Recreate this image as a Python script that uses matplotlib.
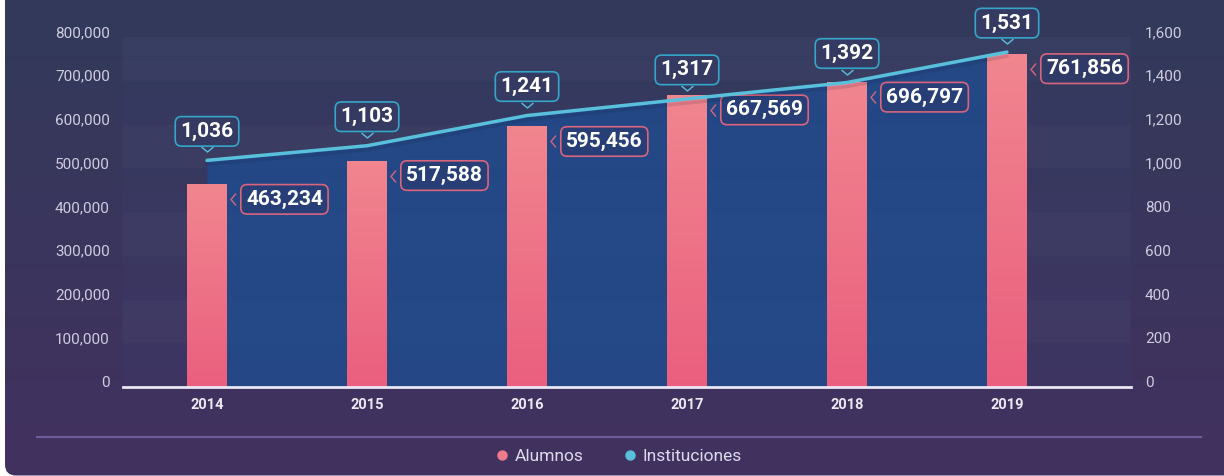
import numpy as np
import matplotlib
matplotlib.use('Agg')
import matplotlib.pyplot as plt
from matplotlib.patches import FancyBboxPatch
from matplotlib.path import Path
from matplotlib.lines import Line2D
from matplotlib.colors import to_rgb
from matplotlib import transforms as mtransforms
import matplotlib.patheffects as pe

plt.rcParams['font.family'] = ['Roboto', 'DejaVu Sans']

# ---------------- data ----------------
years = ['2014', '2015', '2016', '2017', '2018', '2019']
alumnos = [463234, 517588, 595456, 667569, 696797, 761856]
instituciones = [1036, 1103, 1241, 1317, 1392, 1531]
left_ticks = [0, 100000, 200000, 300000, 400000, 500000, 600000, 700000, 800000]
right_ticks = [0, 200, 400, 600, 800, 1000, 1200, 1400, 1600]
series_names = ['Alumnos', 'Instituciones']

# ---------------- style ----------------
PINK = '#ee7a8a'
PINK_TOP = '#f1868f'
PINK_BOT = '#ea5f7e'
PINK_EDGE = '#d8647d'
CYAN = '#58c0da'
CYAN_EDGE = '#35a6c9'
TXT = '#cfcce0'

W, H = 1224, 476
fig = plt.figure(figsize=(W / 100, H / 100), dpi=100)
fig.patch.set_facecolor('white')

# background card with gradient
bg = fig.add_axes([0, 0, 1, 1], zorder=-10)
bg.set_xlim(0, W)
bg.set_ylim(H, 0)
bg.axis('off')
t = np.linspace(0, 1, 256)[:, None, None]
c_top = np.array(to_rgb('#323a5a'))
c_bot = np.array(to_rgb('#42315f'))
img = c_top + (c_bot - c_top) * t
im = bg.imshow(img, extent=(0, W, H, 0), aspect='auto', interpolation='bilinear')
card = FancyBboxPatch((5, -40), W + 60, H + 39.5,
                      boxstyle='round,pad=0,rounding_size=11',
                      facecolor='none', edgecolor='none', transform=bg.transData)
bg.add_patch(card)
im.set_clip_path(card)
bg.plot([36, 1202], [437, 437], color='#6b5e9a', lw=1.5, solid_capstyle='butt')

# main axes
ax = fig.add_axes([123 / W, 1 - 387 / H, 1008 / W, 350 / H])
ax.patch.set_visible(False)
for s in ax.spines.values():
    s.set_visible(False)
x = np.arange(len(years))

# plot-area tint and alternating bands
ax.axhspan(left_ticks[0], left_ticks[-1], color='#3a4a8a', alpha=0.10, lw=0, zorder=0)
for k in range(len(left_ticks) - 1):
    ax.axhspan(left_ticks[k], left_ticks[k + 1], color='white',
               alpha=0.022 if k % 2 == 1 else 0.0, lw=0, zorder=0)

ax2 = ax.twinx()
ax2.patch.set_visible(False)
for s in ax2.spines.values():
    s.set_visible(False)

# area under line (drawn in ax, using the right-axis scale)
ax.fill_between(x, instituciones, 0, transform=ax2.transData,
                color='#1f4c8f', alpha=0.80, lw=0, zorder=1)

# bars with gradient
bars = ax.bar(x, alumnos, width=0.25, color=PINK, zorder=3, lw=0)
grad = np.array(to_rgb(PINK_TOP)) + (np.array(to_rgb(PINK_BOT)) - np.array(to_rgb(PINK_TOP))) * t
for b in bars:
    x0, y0, w, h = b.get_x(), b.get_y(), b.get_width(), b.get_height()
    gi = ax.imshow(grad, extent=(x0, x0 + w, y0, y0 + h), origin='upper',
                   aspect='auto', zorder=3.1, interpolation='bilinear')
    gi.set_clip_path(b)

ax.axhline(0, color='#e9e8f4', lw=2, zorder=4, clip_on=False)

# line
ax2.plot(x, instituciones, color=CYAN, lw=2.5, zorder=5, solid_capstyle='round',
         path_effects=[pe.SimpleLineShadow(offset=(0, -3), shadow_color='#0c1030', alpha=0.12),
                       pe.Normal()])

# chevrons
down_chev = Path([(-1.2, 0.5), (0, -0.5), (1.2, 0.5)], [Path.MOVETO, Path.LINETO, Path.LINETO])
left_chev = Path([(0.5, 1.2), (-0.5, 0), (0.5, -1.2)], [Path.MOVETO, Path.LINETO, Path.LINETO])
tr_down = mtransforms.offset_copy(ax2.transData, fig=fig, x=0, y=11, units='dots')
ax2.plot(x, instituciones, linestyle='none', marker=down_chev, markersize=8.6,
         markerfacecolor='none', markeredgecolor='#5bbfe0', mew=1.0, transform=tr_down, zorder=6)
tr_left = mtransforms.offset_copy(ax.transData, fig=fig, x=26, y=-15, units='dots')
ax.plot(x, alumnos, linestyle='none', marker=left_chev, markersize=8.6,
        markerfacecolor='none', markeredgecolor=PINK_EDGE, mew=1.0, transform=tr_left, zorder=6)

# labels
px = 0.72  # points per pixel
for i, v in enumerate(instituciones):
    ax2.annotate(f'{v:,}', xy=(x[i], v), xytext=(0, 29 * px), textcoords='offset points',
                 ha='center', va='center', fontsize=15, fontweight='bold', color='white',
                 bbox=dict(boxstyle='round,pad=0.25,rounding_size=0.3',
                           fc='#343a62', ec=CYAN_EDGE, lw=1.2), zorder=7)
for i, v in enumerate(alumnos):
    ax.annotate(f'{v:,}', xy=(x[i], v), xytext=(39 * px, -15 * px), textcoords='offset points',
                ha='left', va='center', fontsize=15, fontweight='bold', color='white',
                bbox=dict(boxstyle='round,pad=0.25,rounding_size=0.3',
                          fc=(0.17, 0.22, 0.42, 0.55), ec=PINK_EDGE, lw=1.2), zorder=7)

# axes limits and ticks
ax.set_xlim(-0.525, 5.775)
ax.set_ylim(left_ticks[0], left_ticks[-1])
ax2.set_ylim(right_ticks[0], right_ticks[-1])
ax.set_xticks(x)
ax.set_xticklabels(years, fontsize=10.5, fontweight='bold', color='#ebe8f2')
ax.tick_params(axis='x', length=0, pad=8)
ax.set_yticks(left_ticks)
ax.set_yticklabels([f'{v:,}' for v in left_ticks], va='baseline', fontsize=11,
                   color=TXT, fontweight='normal')
ax.tick_params(axis='y', length=0, pad=9.5)
ax2.set_yticks(right_ticks)
ax2.set_yticklabels([f'{v:,}' for v in right_ticks], va='baseline', fontsize=11,
                    color=TXT, fontweight='normal')
ax2.tick_params(axis='y', length=0, pad=10)

# legend
handles = [Line2D([], [], linestyle='none', marker='o', markersize=6.5, color=PINK),
           Line2D([], [], linestyle='none', marker='o', markersize=6.5, color=CYAN)]
leg = fig.legend(handles, series_names, loc='center', bbox_to_anchor=(619 / W, 1 - 456 / H),
                 ncol=2, frameon=False, handlelength=0.7, handletextpad=0.4,
                 columnspacing=2.3, prop={'size': 12.5, 'weight': 'normal'})
for txt in leg.get_texts():
    txt.set_color('#dedaec')

fig.savefig('out.png', dpi=100, facecolor=fig.get_facecolor())
